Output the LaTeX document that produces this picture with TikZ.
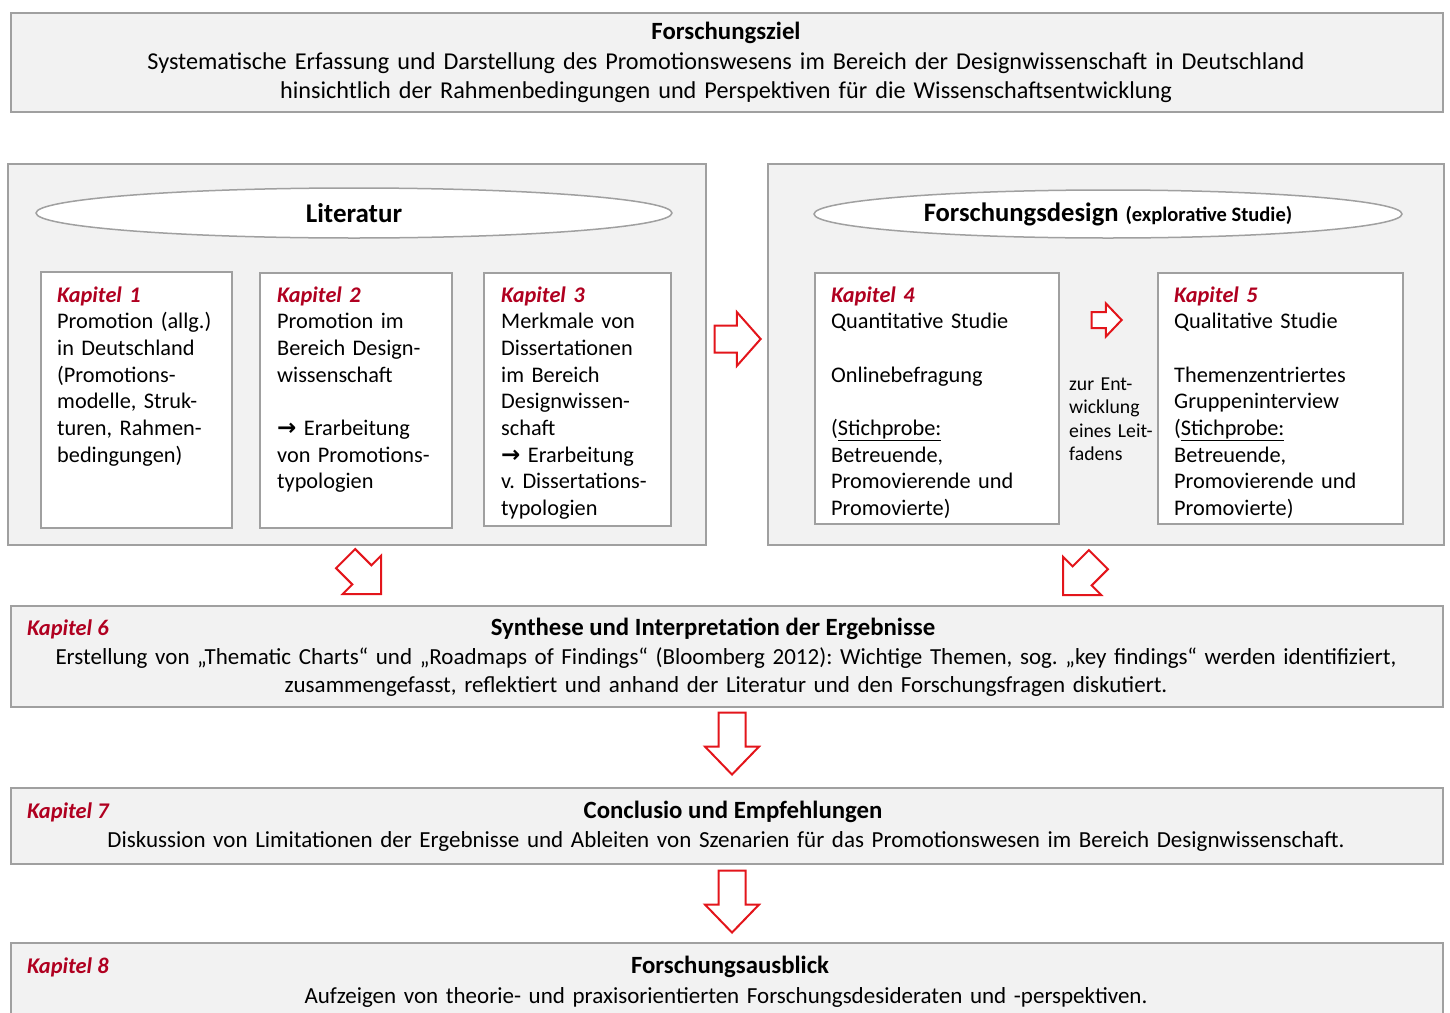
\documentclass[tikz,border=0pt]{standalone}
\usepackage{fontspec}
\setmainfont{Carlito}
\newfontfamily\pfeilfont{DejaVu Sans}
\usetikzlibrary{shapes.geometric,shapes.arrows}
\frenchspacing

\definecolor{kapitelrot}{HTML}{B00020}
\definecolor{pfeilrot}{HTML}{E3151B}
\definecolor{rahmengrau}{HTML}{A0A0A0}
\definecolor{flaeche}{HTML}{F2F2F2}
\newcommand{\kap}[1]{{\color{kapitelrot}\bfseries\itshape Kapitel #1}}
\newcommand{\pf}{{\pfeilfont\bfseries\fontsize{23}{23}\selectfont →}}

\begin{document}
\begin{tikzpicture}[x=1pt, y=-1pt,
    rahmen/.style={draw=rahmengrau, line width=2pt, fill=flaeche, anchor=north west, inner sep=0pt},
    kapbox/.style={draw=rahmengrau, line width=2pt, fill=white, anchor=north west, inner sep=0pt},
    kaptext/.style={anchor=base west, inner sep=0pt, align=left, text width=#1, font=\fontsize{22.3}{26.7}\selectfont},
    breittext/.style={anchor=base, inner sep=0pt, align=center, text width=1440pt, font=\fontsize{23}{28.5}\selectfont},
    titel/.style={anchor=base, inner sep=0pt, font=\fontsize{24.8}{28}\selectfont\bfseries},
    label/.style={anchor=base west, inner sep=0pt, font=\fontsize{22.4}{26}\selectfont},
    oval/.style={ellipse, draw=rahmengrau, line width=1.5pt, fill=white, inner sep=0pt},
    blockpfeil/.style={single arrow, draw=pfeilrot, line width=2pt, fill=white, inner xsep=0pt, anchor=tip}
]
    \useasboundingbox (0,0) rectangle (1450,1012);
    \clip (0,0) rectangle (1450,1012);

    % --- Forschungsziel ---
    \node[rahmen, minimum width=1432pt, minimum height=99pt] (ziel) at (10,12) {};
    \node[titel] (zieltitel) at (726,39) {Forschungsziel};
    \node[breittext, font=\fontsize{24.2}{29}\selectfont] (zieltext) at (726,69)
        {Systematische Erfassung und Darstellung des Promotionswesens im Bereich der Designwissenschaft in Deutschland\\hinsichtlich der Rahmenbedingungen und Perspektiven für die Wissenschaftsentwicklung};

    % --- Literatur (Kapitel 1-3) ---
    \node[rahmen, minimum width=698pt, minimum height=381pt] (lit) at (7,163) {};
    \node[oval, minimum width=636pt, minimum height=50pt, font=\fontsize{27}{30}\selectfont\bfseries] (littitel) at (354,213) {Literatur};
    \node[kapbox, minimum width=191pt, minimum height=256pt] (k1) at (40,271) {};
    \node[kaptext=170pt] (k1text) at (57,302)
        {\kap{1}\\Promotion (allg.)\\in Deutschland\\(Promotions-\\modelle, Struk-\\turen, Rahmen-\\bedingungen)};
    \node[kapbox, minimum width=192pt, minimum height=255pt] (k2) at (259,272) {};
    \node[kaptext=170pt] (k2text) at (277,302)
        {\kap{2}\\Promotion im\\Bereich Design-\\wissenschaft\\\mbox{}\\\pf\ Erarbeitung\\von Promotions-\\typologien};
    \node[kapbox, minimum width=187pt, minimum height=253pt] (k3) at (483,272) {};
    \node[kaptext=165pt] (k3text) at (501,302)
        {\kap{3}\\Merkmale von\\Dissertationen\\im Bereich\\Designwissen-\\schaft\\\pf\ Erarbeitung\\v. Dissertations-\\typologien};

    % --- Forschungsdesign (Kapitel 4-5) ---
    \node[rahmen, minimum width=676pt, minimum height=381pt] (design) at (767,163) {};
    \node[oval, minimum width=588pt, minimum height=48pt, font=\fontsize{26.6}{30}\selectfont\bfseries] (designtitel) at (1108,214)
        {Forschungsdesign\hspace{7pt}{\fontsize{20.5}{22}\selectfont(explorative Studie)}};
    \node[kapbox, minimum width=244pt, minimum height=251pt] (k4) at (814,272) {};
    \node[kaptext=220pt] (k4text) at (831,302)
        {\kap{4}\\Quantitative Studie\\\mbox{}\\Onlinebefragung\\\mbox{}\\(\underline{Stichprobe:}\\Betreuende,\\Promovierende und\\Promovierte)};
    \node[kapbox, minimum width=245pt, minimum height=251pt] (k5) at (1157,272) {};
    \node[kaptext=220pt] (k5text) at (1174,302)
        {\kap{5}\\Qualitative Studie\\\mbox{}\\Themenzentriertes\\Gruppeninterview\\(\underline{Stichprobe:}\\Betreuende,\\Promovierende und\\Promovierte)};
    \node[anchor=base west, inner sep=0pt, align=left, text width=90pt, font=\fontsize{19.7}{23.5}\selectfont] (leitfaden) at (1069,390)
        {zur Ent-\\wicklung\\eines Leit-\\fadens};

    % --- Blockpfeile ---
    \node[blockpfeil, minimum height=46pt, inner ysep=12.5pt, single arrow head extend=13.5pt, single arrow tip angle=97] (pfeilmitte) at (762,339) {};
    \node[blockpfeil, minimum height=30pt, inner ysep=7pt, single arrow head extend=8.5pt, single arrow tip angle=93] (pfeilklein) at (1123,320) {};
    \node[blockpfeil, rotate=-45, minimum height=50pt, inner ysep=12.5pt, single arrow head extend=13.5pt, single arrow tip angle=90] (pfeillinks) at (382,595) {};
    \node[blockpfeil, rotate=-135, minimum height=50pt, inner ysep=12.5pt, single arrow head extend=13.5pt, single arrow tip angle=90] (pfeilrechts) at (1062,596) {};
    \node[blockpfeil, rotate=-90, minimum height=62pt, inner ysep=12.5pt, single arrow head extend=13.5pt, single arrow tip angle=88] (pfeilab1) at (732,776) {};
    \node[blockpfeil, rotate=-90, minimum height=62pt, inner ysep=12.5pt, single arrow head extend=13.5pt, single arrow tip angle=88] (pfeilab2) at (732,934) {};

    % --- Kapitel 6 ---
    \node[rahmen, minimum width=1432pt, minimum height=101pt] (k6) at (10,605) {};
    \node[label] (k6label) at (27,635) {\kap{6}};
    \node[titel] (k6titel) at (713,635) {Synthese und Interpretation der Ergebnisse};
    \node[breittext] (k6text) at (726,664)
        {Erstellung von „Thematic Charts“ und „Roadmaps of Findings“ (Bloomberg 2012): Wichtige Themen, sog. „key findings“ werden identifiziert,\\zusammengefasst, reflektiert und anhand der Literatur und den Forschungsfragen diskutiert.};

    % --- Kapitel 7 ---
    \node[rahmen, minimum width=1432pt, minimum height=76pt] (k7) at (10,787) {};
    \node[label] (k7label) at (27,818) {\kap{7}};
    \node[titel] (k7titel) at (733,818) {Conclusio und Empfehlungen};
    \node[breittext] (k7text) at (726,847)
        {Diskussion von Limitationen der Ergebnisse und Ableiten von Szenarien für das Promotionswesen im Bereich Designwissenschaft.};

    % --- Kapitel 8 ---
    \node[rahmen, minimum width=1432pt, minimum height=90pt] (k8) at (10,942) {};
    \node[label] (k8label) at (27,973) {\kap{8}};
    \node[titel] (k8titel) at (730,973) {Forschungsausblick};
    \node[breittext] (k8text) at (726,1003)
        {Aufzeigen von theorie- und praxisorientierten Forschungsdesideraten und -perspektiven.};
\end{tikzpicture}
\end{document}
